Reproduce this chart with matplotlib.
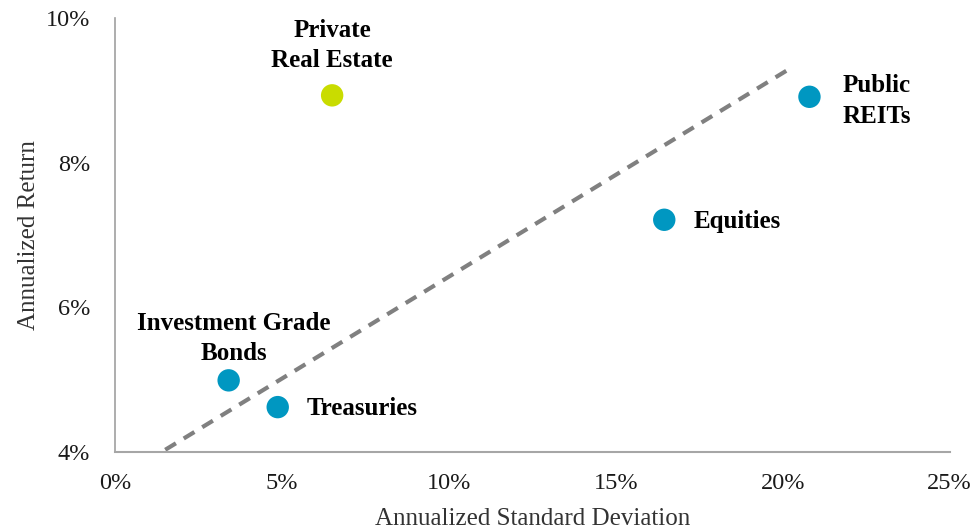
import matplotlib.pyplot as plt
from matplotlib.ticker import FuncFormatter

# asset classes: annualized std dev (%) vs annualized return (%)
names = ['Private\nReal Estate', 'Public\nREITs', 'Equities',
         'Investment Grade\nBonds', 'Treasuries']
risk = [6.5, 20.8, 16.45, 3.4, 4.87]
ret = [8.93, 8.91, 7.21, 4.99, 4.62]
colors = ['#C9DC00', '#0097C1', '#0097C1', '#0097C1', '#0097C1']

# trend line endpoints
trend_x = [1.5, 20.25]
trend_y = [4.03, 9.31]

plt.rcParams['font.family'] = ['Liberation Serif', 'DejaVu Serif']

fig = plt.figure(figsize=(9.76, 5.28), dpi=100)
ax = fig.add_axes([0.118, 0.144, 0.855, 0.822])

ax.plot(trend_x, trend_y, ls=(0, (3, 2.2)), color='#808080', lw=3, zorder=1)
ax.scatter(risk, ret, s=260, c=colors, zorder=2, linewidths=0)

# label placement (offset in points, alignment)
offsets = [(0, 17, 'center', 'bottom'),
           (24, -3, 'left', 'center'),
           (21, -1, 'left', 'center'),
           (4, 11, 'center', 'bottom'),
           (21, -1, 'left', 'center')]
for n, x, y, (dx, dy, ha, va) in zip(names, risk, ret, offsets):
    ax.annotate(n, (x, y), xytext=(dx, dy), textcoords='offset points',
                ha=ha, va=va, multialignment='center', fontsize=18,
                fontweight='bold', linespacing=1.4)

ax.set_xlim(0, 25)
ax.set_ylim(4, 10)
ax.set_xticks([0, 5, 10, 15, 20, 25])
ax.set_yticks([4, 6, 8, 10])
ax.xaxis.set_major_formatter(FuncFormatter(lambda v, p: f'{v:.0f}%'))
ax.yaxis.set_major_formatter(FuncFormatter(lambda v, p: f'{v:.0f}%'))
ax.tick_params(length=0, labelsize=17.5, colors='#1a1a1a')
ax.tick_params(axis='x', pad=15)
ax.tick_params(axis='y', pad=18)

for s in ['top', 'right']:
    ax.spines[s].set_visible(False)
ax.spines['left'].set_color('#A0A0A0')
ax.spines['bottom'].set_color('#A6A6A6')
ax.spines['left'].set_linewidth(1.2)
ax.spines['bottom'].set_linewidth(1.5)

ax.set_xlabel('Annualized Standard Deviation', fontsize=18, color='#333333', labelpad=10)
ax.set_ylabel('Annualized Return', fontsize=18, color='#333333', labelpad=4)

fig.savefig('out.png', dpi=100)
